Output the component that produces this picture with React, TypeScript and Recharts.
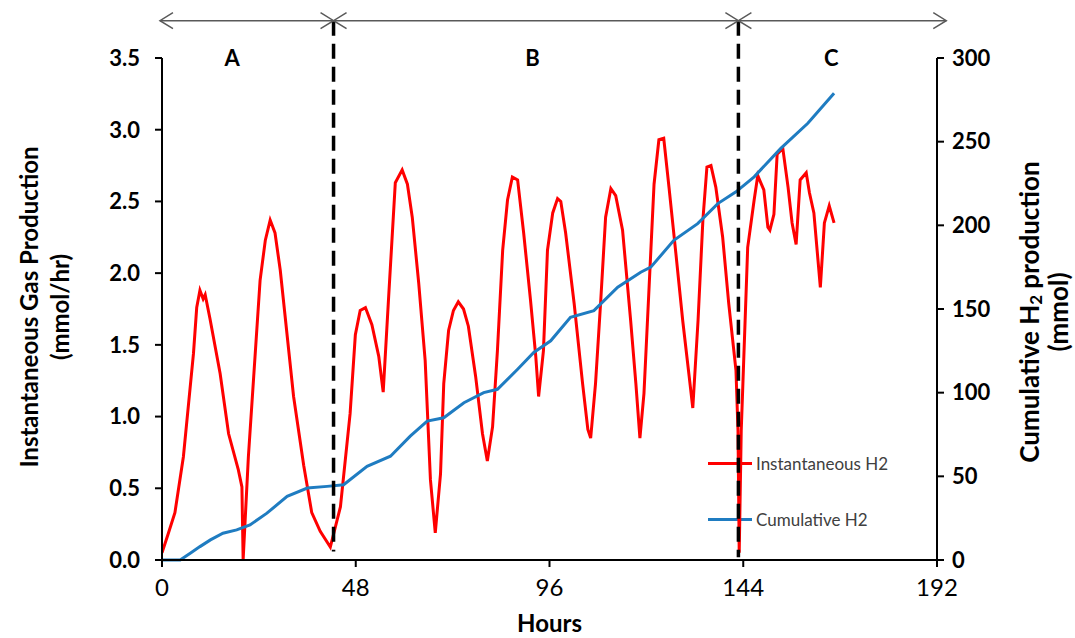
import React from "react";
import {
  ComposedChart,
  Line,
  XAxis,
  YAxis,
  ReferenceLine,
  ReferenceDot,
  Legend,
} from "recharts";

// hours / mmol per hr
const instHours = [
  0, 1.5, 3.2, 5.3, 7.8, 8.6, 9.4, 10.2, 10.7, 11.9, 14.4, 16.5, 18.9, 19.8, 20.1, 21.4,
  24.3, 25.6, 26.8, 28.0, 29.3, 32.6, 35.1, 37.1, 39.2, 41.7, 44.2, 46.6, 47.9, 49.1,
  50.4, 52.0, 53.7, 54.8, 56.1, 57.8, 59.5, 60.8, 62.0, 63.6, 65.2, 66.5, 67.7, 69.0,
  69.8, 71.0, 72.2, 73.4, 74.7, 75.9, 77.7, 79.4, 80.6, 81.9, 83.1, 84.4, 85.6, 86.8,
  88.1, 89.6, 91.3, 92.6, 93.3, 94.5, 95.5, 96.8, 98.0, 98.8, 100.0, 102.1, 104.2,
  105.5, 106.2, 107.4, 108.7, 109.9, 111.2, 112.4, 114.1, 116.1, 117.4, 118.4, 119.4,
  120.6, 121.9, 123.1, 124.3, 125.6, 127.3, 129.0, 130.6, 131.5, 132.8, 134.0, 135.0,
  136.0, 137.2, 138.9, 140.4, 142.2, 142.7, 143.0, 143.5, 145.1, 146.7, 147.6, 149.1,
  150.1, 150.6, 151.6, 152.4, 153.8, 155.1, 156.1, 157.1, 158.1, 159.6, 160.4, 161.5,
  163.1, 164.1, 165.3, 166.5,
];
const instH2 = [
  0.05, 0.18, 0.33, 0.72, 1.44, 1.76, 1.88, 1.82, 1.85, 1.68, 1.3, 0.88, 0.63, 0.51, 0.0, 0.72,
  1.95, 2.23, 2.37, 2.28, 2.02, 1.14, 0.66, 0.33, 0.2, 0.09, 0.37, 1.02, 1.57, 1.74,
  1.76, 1.64, 1.42, 1.17, 1.81, 2.63, 2.72, 2.62, 2.39, 1.93, 1.39, 0.56, 0.19, 0.6,
  1.23, 1.6, 1.74, 1.8, 1.75, 1.63, 1.28, 0.88, 0.69, 0.93, 1.46, 2.16, 2.51, 2.67,
  2.65, 2.28, 1.81, 1.42, 1.14, 1.46, 2.16, 2.42, 2.52, 2.5, 2.28, 1.79, 1.23,
  0.91, 0.85, 1.23, 1.81, 2.39, 2.59, 2.54, 2.3, 1.67, 1.23, 0.85, 1.16,
  1.86, 2.62, 2.93, 2.94, 2.6, 2.14, 1.67, 1.28, 1.06, 1.67, 2.37, 2.74,
  2.75, 2.6, 2.25, 1.79, 1.32, 0.9, 0.05, 0.9, 2.18, 2.51, 2.68, 2.58,
  2.32, 2.3, 2.41, 2.83, 2.87, 2.6, 2.35, 2.2, 2.65, 2.7, 2.56, 2.42,
  1.9, 2.35, 2.47, 2.35,
];

// hours / mmol
const cumHours = [
  0, 4.5, 7, 9.4, 12, 15.1, 18.5, 21.8, 26, 31, 36, 40.9, 45, 50.8, 56.6, 61.5, 65.7,
  69.8, 74.8, 79.7, 83.1, 88.1, 92.1, 96.3, 101.2, 107, 112.9, 118.6, 121.1, 126.8,
  132.7, 137.7, 142.2, 146.7, 153.3, 160, 166.5,
];
const cumH2 = [
  0, 0, 4, 8, 12, 16, 18, 21, 28, 38, 43, 44, 45, 56, 62, 74, 83,
  85, 94, 100, 102, 114, 124, 131, 145, 149, 163, 172, 175, 191,
  201, 213, 220, 229, 246, 261, 279,
];

const xTicks = [0, 48, 96, 144, 192];
const leftTicks = [0, 0.5, 1, 1.5, 2, 2.5, 3, 3.5];
const rightTicks = [0, 50, 100, 150, 200, 250, 300];

const seriesNames = ["Instantaneous H2", "Cumulative H2"];

const phaseEdges = [-0.5, 42.5, 142.8, 194.3];
const phaseNames = ["A", "B", "C"];
const phaseLabelHours = [17.4, 91.8, 165.8];
const arrowLevel = 3.76;

const instData = instHours.map((h, i) => ({ h, v: instH2[i] }));
const cumData = cumHours.map((h, i) => ({ h, c: cumH2[i] }));

const FONT = "Lato, 'Open Sans', sans-serif";

const Arrow = (p: any) => {
  const { x1, y1, x2, y2 } = p;
  return (
    <g stroke="#595959" strokeWidth={1.5} fill="none">
      <line x1={x1} y1={y1} x2={x2} y2={y2} />
      <polyline points={`${x1 + 13},${y1 - 8} ${x1},${y1} ${x1 + 13},${y1 + 8}`} />
      <polyline points={`${x2 - 13},${y2 - 8} ${x2},${y2} ${x2 - 13},${y2 + 8}`} />
    </g>
  );
};

const LeftTitle = ({ viewBox }: any) => {
  const cy = viewBox.y + viewBox.height / 2 - 2;
  return (
    <g fontFamily={FONT} fontWeight={700} fontSize={24} fill="#000">
      <text transform={`translate(${viewBox.x + 28},${cy}) rotate(-90)`} textAnchor="middle" dominantBaseline="central">
        Instantaneous  Gas Production
      </text>
      <text transform={`translate(${viewBox.x + 59},${cy}) rotate(-90)`} textAnchor="middle" dominantBaseline="central">
        (mmol/hr)
      </text>
    </g>
  );
};

const RightTitle = ({ viewBox }: any) => {
  const cy = viewBox.y + viewBox.height / 2 + 3;
  return (
    <g fontFamily={FONT} fontWeight={700} fontSize={26} fill="#000">
      <text transform={`translate(${viewBox.x + 92},${cy}) rotate(-90)`} textAnchor="middle" dominantBaseline="central">
        Cumulative H<tspan fontSize={17} dy={6}>2</tspan>
        <tspan dy={-6}> production</tspan>
      </text>
      <text transform={`translate(${viewBox.x + 121},${cy}) rotate(-90)`} textAnchor="middle" dominantBaseline="central">
        (mmol)
      </text>
    </g>
  );
};

const LegendBox = ({ payload }: any) => {
  const items = [...(payload || [])].sort(
    (a: any, b: any) => seriesNames.indexOf(a.value) - seriesNames.indexOf(b.value)
  );
  return (
    <div style={{ fontFamily: FONT, fontSize: 17, color: "#404040" }}>
      {items.map((it: any) => (
        <div key={it.value} style={{ display: "flex", alignItems: "center", height: 56 }}>
          <span style={{ width: 44, height: 3, background: it.color, marginRight: 4 }} />
          <span>{it.value}</span>
        </div>
      ))}
    </div>
  );
};

export default function App() {
  return (
    <div style={{ position: "absolute", left: 0, top: 0 }}>
      <ComposedChart width={1075} height={638} margin={{ top: 58, right: 0, bottom: 0, left: 0 }}>
        <XAxis
          dataKey="h"
          type="number"
          domain={[0, 192]}
          ticks={xTicks}
          allowDataOverflow
          axisLine={{ stroke: "#000", strokeWidth: 2 }}
          tickLine={{ stroke: "#000", strokeWidth: 2 }}
          tickSize={7}
          tickMargin={12}
          tick={{ fill: "#000", fontSize: 24, fontFamily: FONT }}
          height={78}
          label={{ value: "Hours", position: "insideBottom", offset: 6, fill: "#000", fontSize: 24, fontWeight: 700, fontFamily: FONT }}
        />
        <YAxis
          yAxisId="l"
          domain={[0, 3.5]}
          ticks={leftTicks}
          tickFormatter={(v: number) => v.toFixed(1)}
          width={162}
          axisLine={{ stroke: "#000", strokeWidth: 2 }}
          tickLine={{ stroke: "#000", strokeWidth: 2 }}
          tickSize={7}
          tickMargin={15}
          tick={{ fill: "#000", fontSize: 22, fontWeight: 700, fontFamily: FONT }}
          label={{ content: LeftTitle }}
        />
        <YAxis
          yAxisId="r"
          orientation="right"
          domain={[0, 300]}
          ticks={rightTicks}
          width={138}
          axisLine={{ stroke: "#000", strokeWidth: 2 }}
          tickLine={{ stroke: "#000", strokeWidth: 2 }}
          tickSize={7}
          tickMargin={8}
          tick={{ fill: "#000", fontSize: 22, fontWeight: 700, fontFamily: FONT }}
          label={{ content: RightTitle }}
        />
        <Line
          yAxisId="l"
          data={instData}
          dataKey="v"
          name={seriesNames[0]}
          type="linear"
          stroke="#ff0000"
          strokeWidth={3}
          dot={false}
          isAnimationActive={false}
        />
        <Line
          yAxisId="r"
          data={cumData}
          dataKey="c"
          name={seriesNames[1]}
          type="linear"
          stroke="#1f7cc1"
          strokeWidth={3}
          dot={false}
          isAnimationActive={false}
        />
        <ReferenceLine
          yAxisId="l"
          segment={[{ x: phaseEdges[1], y: arrowLevel }, { x: phaseEdges[1], y: 0.06 }]}
          stroke="#000"
          strokeWidth={3.5}
          strokeDasharray="15 8"
          ifOverflow="visible"
        />
        <ReferenceLine
          yAxisId="l"
          segment={[{ x: phaseEdges[2], y: arrowLevel }, { x: phaseEdges[2], y: 0.02 }]}
          stroke="#000"
          strokeWidth={3.5}
          strokeDasharray="15 8"
          ifOverflow="visible"
        />
        {phaseNames.map((n, i) => (
          <ReferenceLine
            key={"arr" + n}
            yAxisId="l"
            segment={[{ x: phaseEdges[i], y: arrowLevel }, { x: phaseEdges[i + 1], y: arrowLevel }]}
            ifOverflow="visible"
            shape={Arrow}
          />
        ))}
        {phaseNames.map((n, i) => (
          <ReferenceDot
            key={"lab" + n}
            yAxisId="l"
            x={phaseLabelHours[i]}
            y={3.5}
            r={0}
            ifOverflow="visible"
            stroke="none"
            label={{ value: n, position: "center", fill: "#000", fontSize: 22, fontWeight: 700, fontFamily: FONT }}
          />
        ))}
        <Legend
          layout="horizontal"
          verticalAlign="middle"
          align="center"
          content={LegendBox}
          wrapperStyle={{ left: 708, top: 435, width: 220, zIndex: -1 }}
        />
      </ComposedChart>
    </div>
  );
}
